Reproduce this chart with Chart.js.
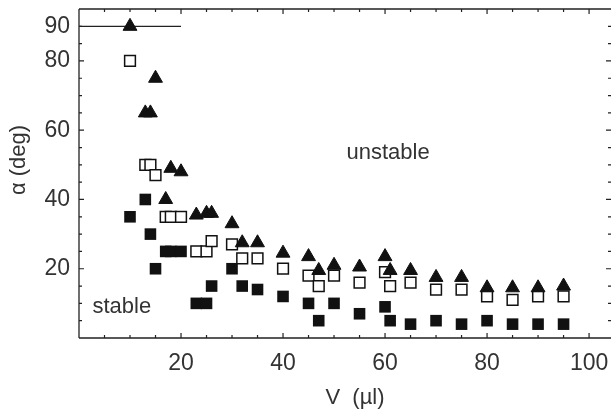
<!DOCTYPE html>
<html>
<head>
<meta charset="utf-8">
<script src="https://cdn.jsdelivr.net/npm/chart.js@4"></script>
<style>
  html, body { margin: 0; padding: 0; background: #fff; }
</style>
</head>
<body>
<canvas id="alpha" width="611" height="411"></canvas>
<script>
// drop volume (µl), shared by all three series
const volumes = [10, 13, 14, 15, 17, 18, 20, 23, 25, 26, 30, 32, 35, 40, 45, 47, 50, 55, 60, 61, 65, 70, 75, 80, 85, 90, 95];
// tilt angle alpha (deg)
const triangleAngles = [90, 65, 65, 75, 40, 49, 48, 35.5, 36, 36, 33, 27.5, 27.5, 24.5, 23.5, 19.5, 21, 20.5, 23.5, 19.5, 19.5, 17.5, 17.5, 14.5, 14.5, 14.5, 15];
const openSquareAngles = [80, 50, 50, 47, 35, 35, 35, 25, 25, 28, 27, 23, 23, 20, 18, 15, 18, 16, 19, 15, 16, 14, 14, 12, 11, 12, 12];
const filledSquareAngles = [35, 40, 30, 20, 25, 25, 25, 10, 10, 15, 20, 15, 14, 12, 10, 5, 10, 7, 9, 5, 4, 5, 4, 5, 4, 4, 4];
// 90 deg limit line
const limitX = [0, 20];
const limitY = [90, 90];

const xTicks = [20, 40, 60, 80, 100];
const yTicks = [20, 40, 60, 80, 90];

const FONT = "'Liberation Sans', Arial, sans-serif";
const TEXT = '#333';
const INK = '#111';

const toPoints = (xs, ys) => xs.map((x, i) => ({ x: x, y: ys[i] }));

const framePlugin = {
  id: 'frame',
  afterDraw(chart) {
    const ctx = chart.ctx;
    const xs = chart.scales.x, ys = chart.scales.y;
    const a = chart.chartArea;
    ctx.save();
    ctx.strokeStyle = '#222';
    ctx.lineWidth = 1.3;
    ctx.beginPath();
    ctx.moveTo(a.left, a.top); ctx.lineTo(a.right, a.top);
    ctx.moveTo(a.left, a.bottom); ctx.lineTo(a.right, a.bottom);
    ctx.moveTo(a.left, a.top); ctx.lineTo(a.left, a.bottom);
    ctx.stroke();

    // inward ticks, every 5 units
    ctx.lineWidth = 1.2;
    ctx.beginPath();
    for (let v = 5; v <= 100; v += 5) {
      const px = xs.getPixelForValue(v);
      const len = v % 20 === 0 ? 5 : 3;
      ctx.moveTo(px, a.bottom); ctx.lineTo(px, a.bottom - len);
      ctx.moveTo(px, a.top); ctx.lineTo(px, a.top + len);
    }
    for (let v = 5; v <= 90; v += 5) {
      const py = ys.getPixelForValue(v);
      const len = v % 20 === 0 ? 5 : 3;
      ctx.moveTo(a.left, py); ctx.lineTo(a.left + len, py);
      ctx.moveTo(a.right, py); ctx.lineTo(a.right - len, py);
    }
    ctx.stroke();

    // region labels
    ctx.fillStyle = TEXT;
    ctx.font = '22px ' + FONT;
    ctx.textAlign = 'center';
    ctx.textBaseline = 'middle';
    ctx.fillText('unstable', xs.getPixelForValue(60.6), ys.getPixelForValue(53.5));
    ctx.fillText('stable', xs.getPixelForValue(8.4), ys.getPixelForValue(9));

    // axis titles
    ctx.fillText('V  (\u00b5l)', 355, 398);
    ctx.save();
    ctx.translate(19, 160);
    ctx.rotate(-Math.PI / 2);
    ctx.fillText('\u03b1 (deg)', 0, 0);
    ctx.restore();
    ctx.restore();
  }
};

new Chart(document.getElementById('alpha'), {
  type: 'scatter',
  data: {
    datasets: [
      {
        label: 'triangles',
        data: toPoints(volumes, triangleAngles),
        pointStyle: 'triangle',
        pointRadius: 8,
        backgroundColor: INK,
        borderColor: INK,
        borderWidth: 1
      },
      {
        label: 'open squares',
        data: toPoints(volumes, openSquareAngles),
        pointStyle: 'rect',
        pointRadius: 7.6,
        backgroundColor: '#fff',
        borderColor: INK,
        borderWidth: 1.5
      },
      {
        label: 'filled squares',
        data: toPoints(volumes, filledSquareAngles),
        pointStyle: 'rect',
        pointRadius: 8.2,
        backgroundColor: INK,
        borderColor: INK,
        borderWidth: 0
      },
      {
        type: 'line',
        label: 'limit',
        data: toPoints(limitX, limitY),
        borderColor: '#222',
        borderWidth: 1.3,
        pointRadius: 0,
        fill: false
      }
    ]
  },
  options: {
    responsive: false,
    animation: false,
    events: [],
    layout: { autoPadding: false, padding: { top: 9, right: 0, left: 0, bottom: 0 } },
    plugins: { legend: { display: false }, tooltip: { enabled: false } },
    scales: {
      x: {
        type: 'linear',
        min: 0,
        max: 104.3,
        grid: { display: false, drawTicks: false },
        border: { display: false },
        afterBuildTicks: (scale) => { scale.ticks = xTicks.map(v => ({ value: v })); },
        afterFit: (scale) => {
          scale.height = 73;
          scale.paddingLeft = 0; scale.paddingRight = 0;
        },
        ticks: { color: TEXT, font: { family: FONT, size: 23 }, padding: 12, maxRotation: 0 }
      },
      y: {
        type: 'linear',
        min: 0,
        max: 95,
        grid: { display: false, drawTicks: false },
        border: { display: false },
        afterBuildTicks: (scale) => { scale.ticks = yTicks.map(v => ({ value: v })); },
        afterFit: (scale) => {
          scale.width = 79;
          scale.paddingTop = 0; scale.paddingBottom = 0;
        },
        ticks: { color: TEXT, font: { family: FONT, size: 23 }, padding: 9 }
      }
    }
  },
  plugins: [framePlugin]
});
</script>
</body>
</html>
